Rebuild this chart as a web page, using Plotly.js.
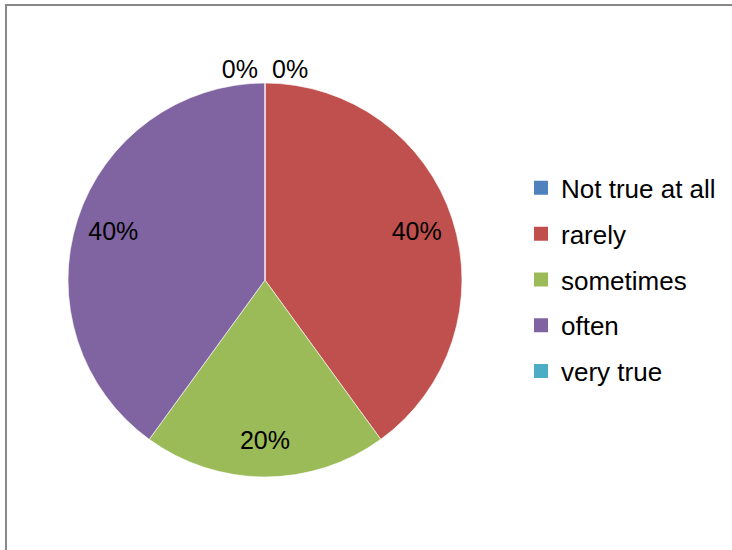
<!DOCTYPE html>
<html>
<head>
<meta charset="utf-8">
<script src="https://cdn.plot.ly/plotly-3.0.1.min.js"></script>
<style>html,body{margin:0;padding:0;background:#fff}#chart{width:732px;height:550px}</style>
</head>
<body>
<div id="chart"></div>
<script>
var categories = ['Not true at all', 'rarely', 'sometimes', 'often', 'very true'];
var values = [0, 40, 20, 40, 0];
var colors = ['#4F81BD', '#C0504D', '#9BBB59', '#8064A2', '#4BACC6'];

var FONT = 'Liberation Sans, Arial, sans-serif';
var DOMAIN = {x: [0.0929, 0.6311], y: [0.1327, 0.8491]};

// zero slices: label outside; non-zero slices: label in the outer ring
var outsideTpl = values.map(function (v) { return v === 0 ? '%{percent:.0%}' : ''; });
var insideTpl = values.map(function (v) { return v === 0 ? '' : '%{percent:.0%}'; });

var traces = [{
  type: 'pie',
  labels: categories,
  values: values,
  sort: false,
  direction: 'clockwise',
  rotation: 0,
  marker: {colors: colors, line: {color: '#ffffff', width: 0.6}},
  texttemplate: outsideTpl,
  textposition: 'outside',
  textfont: {family: FONT, size: 25, color: '#000'},
  showlegend: false,
  hoverinfo: 'label+percent',
  domain: DOMAIN
}, {
  type: 'pie',
  labels: categories,
  values: values,
  sort: false,
  direction: 'clockwise',
  rotation: 0,
  hole: 0.62,
  marker: {colors: values.map(function () { return 'rgba(0,0,0,0)'; }), line: {width: 0}},
  texttemplate: insideTpl,
  textposition: 'inside',
  insidetextorientation: 'horizontal',
  textfont: {family: FONT, size: 25, color: '#000'},
  showlegend: false,
  hoverinfo: 'skip',
  domain: DOMAIN
}];

categories.forEach(function (c, i) {
  traces.push({
    type: 'scatter', mode: 'markers', x: [null], y: [null],
    name: c, legendgroup: 'g' + i, showlegend: true,
    marker: {symbol: 'square', size: 14, color: colors[i]},
    hoverinfo: 'skip'
  });
});

var layout = {
  width: 732, height: 550,
  margin: {l: 0, r: 0, t: 0, b: 0},
  paper_bgcolor: '#fff', plot_bgcolor: '#fff',
  font: {family: FONT, color: '#000'},
  xaxis: {visible: false}, yaxis: {visible: false},
  showlegend: true,
  legend: {
    x: 521 / 732, y: 0.491, xanchor: 'left', yanchor: 'middle',
    font: {family: FONT, size: 26, color: '#000'},
    tracegroupgap: 9, itemwidth: 30, traceorder: 'grouped'
  },
  shapes: [{
    type: 'rect', xref: 'paper', yref: 'paper',
    x0: 6 / 732, x1: 1.1, y0: -0.1, y1: 1 - 5 / 550,
    line: {color: '#888888', width: 2}, layer: 'above'
  }]
};

Plotly.newPlot('chart', traces, layout, {displayModeBar: false, staticPlot: true});
</script>
</body>
</html>
